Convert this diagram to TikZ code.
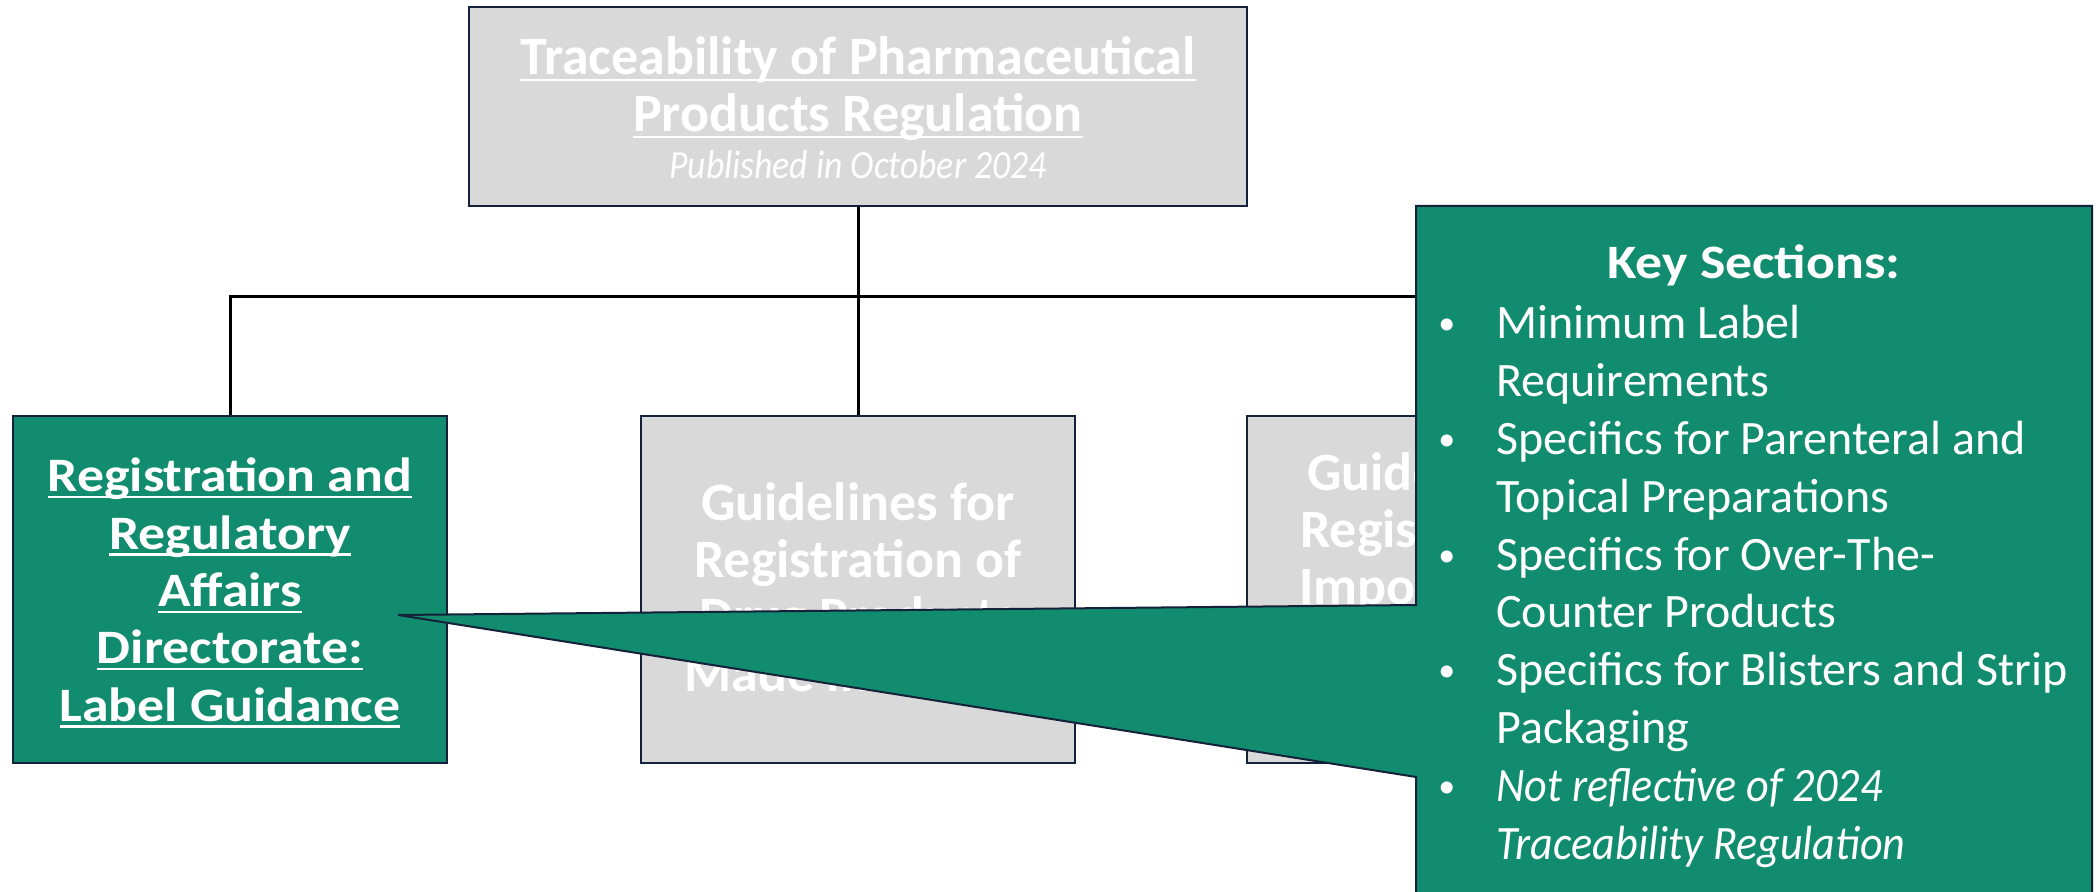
\documentclass[tikz,border=0pt]{standalone}
\usepackage{fontspec}
\setmainfont{Carlito}
\newfontfamily\wideb[FakeStretch=1.12]{Carlito}
\newfontfamily\pubf[FakeStretch=0.89]{Carlito}
\newfontfamily\itf[FakeStretch=0.92]{Carlito}
\newcommand{\myul}[1]{\leavevmode\setbox0\hbox{#1}\rlap{\rule[-3.2pt]{\wd0}{1.2pt}}\box0}
\definecolor{kgreen}{HTML}{128C6E}
\definecolor{kgray}{HTML}{D9D9D9}
\definecolor{knavy}{HTML}{13213A}
\tikzset{
  graybox/.style={draw=knavy, fill=kgray, line width=1pt, inner sep=0pt},
  greenbox/.style={draw=knavy, fill=kgreen, line width=1pt, inner sep=0pt},
  conn/.style={draw=black, line width=1.5pt},
  wtxt/.style={text=white, inner sep=0pt, anchor=base},
  ltxt/.style={text=white, inner sep=0pt, anchor=base west},
}
\begin{document}
\begin{tikzpicture}[x=0.5pt,y=-0.5pt]
\useasboundingbox (0,0) rectangle (2100,892);
\clip (0,0) rectangle (2100,892);
% boxes
\node[graybox, minimum width=389pt, minimum height=99.5pt] (top) at (858,106.5) {};
\node[greenbox, minimum width=217pt, minimum height=173.5pt] (left) at (230,589.5) {};
\node[graybox, minimum width=217pt, minimum height=173.5pt] (mid) at (858,589.5) {};
\node[graybox, minimum width=217pt, minimum height=173.5pt] (third) at (1464,589.5) {};
\coordinate (bus) at (0,297);
% connectors
\draw[conn] (top.south) -- (mid.north);
\draw[conn] (left.north) |- (third.north |- bus) -- (third.north);
% top text
\node[wtxt, font=\bfseries\fontsize{27}{30}\selectfont] (t1) at (858,75) {\myul{Traceability of Pharmaceutical}};
\node[wtxt, font=\bfseries\fontsize{27}{30}\selectfont] (t2) at (858,132) {\myul{Products Regulation}};
\node[wtxt, font=\pubf\itshape\fontsize{20}{24}\selectfont] (t3) at (858,179) {Published in October 2024};
% left box text
\foreach \i/\s in {0/Registration and,1/Regulatory,2/Affairs,3/Directorate:,4/Label Guidance}{
  \node[wtxt, font=\wideb\bfseries\fontsize{24}{28}\selectfont] (l\i) at (230,{492+57.3*\i}) {\myul{\s}};
}
% middle box text
\foreach \i/\s in {0/Guidelines for,1/Registration of,2/Drug Products,3/Made in \phantom{Jordan}}{
  \node[wtxt, font=\bfseries\fontsize{27}{30}\selectfont] (m\i) at (858,{521+57*\i}) {\s};
}
% third box text
\foreach \i/\s in {0/Guidelines for,1/Registration of,2/Imported\phantom{ Drug}}{
  \node[wtxt, font=\bfseries\fontsize{27}{30}\selectfont] (r\i) at (1464,{491+57*\i}) {\s};
}
% callout
\filldraw[fill=kgreen, draw=knavy, line width=1pt] (1416,206) -- (2092,206) -- (2092,900) -- (1416,900) -- (1416,777) -- (398,615) -- (1416,605) -- cycle;
\node[wtxt, font=\wideb\bfseries\fontsize{24}{28}\selectfont] (ks) at (1754,279) {Key Sections:};
\foreach \i/\s in {0/Minimum Label,1/Requirements,2/Specifics for Parenteral and,3/Topical Preparations,4/Specifics for Over-The-,5/Counter Products,6/Specifics for Blisters and Strip,7/Packaging}{
  \node[ltxt, font=\fontsize{24}{28}\selectfont] (c\i) at (1496,{339+57.8*\i}) {\s};
}
\foreach \i/\s in {8/Not reflective of 2024,9/Traceability Regulation}{
  \node[ltxt, font=\itf\itshape\fontsize{24}{28}\selectfont] (c\i) at (1496,{339+57.8*\i}) {\s};
}
\foreach \i in {0,2,4,6,8}{
  \node[ltxt, font=\fontsize{17}{20}\selectfont] (b\i) at (1438,{335+57.8*\i}) {\textbullet};
}
\end{tikzpicture}
\end{document}
